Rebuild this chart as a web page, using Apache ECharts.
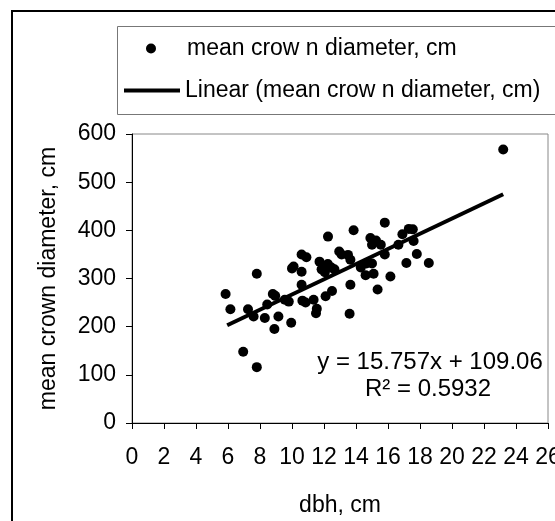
<!DOCTYPE html>
<html>
<head>
<meta charset="utf-8">
<script src="https://cdn.jsdelivr.net/npm/echarts@6/dist/echarts.min.js"></script>
<style>html,body{margin:0;padding:0;background:#fff;}#c{width:555px;height:521px;}</style>
</head>
<body>
<div id="c"></div>
<script>
// ---- data ----
var dbh = [5.85, 6.15, 7.25, 7.8, 7.6, 8.3, 8.9, 6.95, 7.8, 8.8, 8.95, 9.15, 8.45, 9.55, 9.8, 9.95,
  10.0, 10.1, 10.6, 10.6, 10.65, 10.85, 10.6, 10.9, 11.35, 11.55, 11.5, 12.1, 12.5, 12.25,
  11.72, 12.24, 12.0, 12.46, 11.85, 12.05, 12.65, 12.95, 13.1, 13.5, 13.65, 13.65, 13.6, 13.85,
  14.3, 14.65, 15.0, 14.9, 15.0, 15.55, 15.25, 14.6, 15.1, 15.8, 15.35, 16.15, 15.8, 16.65,
  16.9, 17.3, 17.55, 17.6, 17.8, 17.15, 18.55, 23.2];
var crown = [268, 236, 236, 310, 221, 218, 195, 148, 116, 268, 264, 221, 246, 256, 252, 208,
  321, 325, 314, 287, 254, 250, 350, 344, 256, 237, 228, 263, 274, 387,
  335, 330, 325, 323, 319, 313, 319, 356, 350, 349, 339, 287, 227, 400,
  323, 331, 331, 384, 370, 370, 379, 307, 310, 350, 277, 304, 416, 370,
  392, 403, 402, 378, 351, 332, 332, 568];
var trendX = [5.95, 23.2];
var trendY = [203, 475];
var xTicks = {min: 0, max: 26, interval: 2};
var yTicks = {min: 0, max: 600, interval: 100};
var scatterName = 'mean crow n diameter, cm';
var lineName = 'Linear (mean crow n diameter, cm)';
var eqText = 'y = 15.757x + 109.06';
var r2Text = 'R² = 0.5932';

var pts = dbh.map(function (x, i) { return [x, crown[i]]; });
var trend = trendX.map(function (x, i) { return [x, trendY[i]]; });

var FONT = 'Liberation Sans, Arial, sans-serif';
var chart = echarts.init(document.getElementById('c'), null, {renderer: 'canvas'});
chart.setOption({
  backgroundColor: '#fff',
  animation: false,
  textStyle: {fontFamily: FONT},
  grid: {left: 132, right: 7, top: 134, bottom: 98, containLabel: false, outerBoundsMode: 'none',
         show: true, borderColor: '#888', borderWidth: 1, backgroundColor: '#fff'},
  xAxis: {
    type: 'value', min: xTicks.min, max: xTicks.max, interval: xTicks.interval,
    name: 'dbh, cm', nameLocation: 'middle', nameGap: 71,
    nameTextStyle: {fontSize: 23, color: '#000', fontFamily: FONT},
    axisLine: {show: true, onZero: false, lineStyle: {color: '#000', width: 1}},
    axisTick: {show: true, inside: false, length: 6, lineStyle: {color: '#000'}},
    axisLabel: {fontSize: 23, color: '#000', margin: 23, fontFamily: FONT, showMaxLabel: true, hideOverlap: false},
    splitLine: {show: false}
  },
  yAxis: {
    type: 'value', min: yTicks.min, max: yTicks.max, interval: yTicks.interval,
    name: 'mean crown diameter, cm', nameLocation: 'middle', nameGap: 72,
    nameTextStyle: {fontSize: 23, color: '#000', fontFamily: FONT},
    axisLine: {show: true, onZero: false, lineStyle: {color: '#000', width: 1}},
    axisTick: {show: true, inside: false, length: 6, lineStyle: {color: '#000'}},
    axisLabel: {fontSize: 23, color: '#000', margin: 16, fontFamily: FONT},
    splitLine: {show: false}
  },
  legend: [
    {data: [scatterName], left: 146, top: 37, padding: 0, itemWidth: 10, itemHeight: 10, icon: 'circle',
     selectedMode: false, itemStyle: {color: '#000', opacity: 1},
     textStyle: {fontSize: 23, color: '#000', fontFamily: FONT, padding: [0, 0, 0, 26]}},
    {data: [lineName], left: 124, top: 79, padding: 0, itemWidth: 56, itemHeight: 4, icon: 'rect',
     selectedMode: false, itemStyle: {color: '#000'},
     textStyle: {fontSize: 23, color: '#000', fontFamily: FONT}}
  ],
  graphic: [
    {type: 'rect', shape: {x: 12, y: 11, width: 600, height: 600}, style: {fill: 'none', stroke: '#000', lineWidth: 2}, z: 100},
    {type: 'rect', shape: {x: 117.5, y: 26.5, width: 500, height: 88}, style: {fill: 'none', stroke: '#777', lineWidth: 1}, z: 100},
    {type: 'text', x: 430, y: 362, style: {text: eqText, font: '24px ' + FONT, fill: '#000', textAlign: 'center', textVerticalAlign: 'middle'}, z: 100},
    {type: 'text', x: 428, y: 389, style: {text: r2Text, font: '24px ' + FONT, fill: '#000', textAlign: 'center', textVerticalAlign: 'middle'}, z: 100}
  ],
  series: [
    {name: scatterName, type: 'scatter', data: pts, symbol: 'circle', symbolSize: 10,
     itemStyle: {color: '#000', opacity: 1}, z: 3},
    {name: lineName, type: 'line', data: trend, showSymbol: false, symbol: 'none',
     lineStyle: {color: '#000', width: 4}, itemStyle: {color: '#000'}, z: 4, silent: true}
  ]
});
</script>
</body>
</html>
